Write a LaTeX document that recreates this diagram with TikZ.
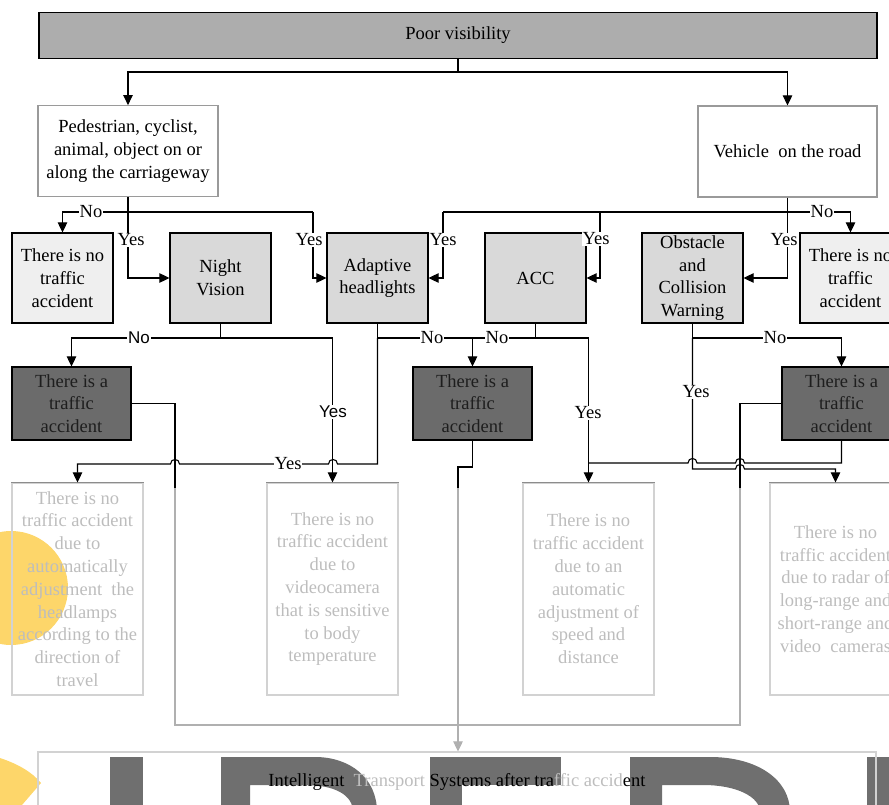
\documentclass[tikz,border=0pt]{standalone}
\usepackage{fontspec}
\setmainfont{Liberation Serif}
\newfontfamily\lsans{Liberation Sans}
\usetikzlibrary{arrows.meta}
\definecolor{topfill}{HTML}{ADADAD}
\definecolor{procfill}{HTML}{D9D9D9}
\definecolor{nofill}{HTML}{EFEFEF}
\definecolor{accfill}{HTML}{6B6B6B}
\definecolor{fadetext}{HTML}{BDBDBD}
\definecolor{fadeline}{HTML}{D2D2D2}
\definecolor{fadetopc}{HTML}{8C8C8C}
\definecolor{glinec}{HTML}{B0B0B0}
\definecolor{wmy}{HTML}{FDD66A}
\definecolor{wmg}{HTML}{6F6F6F}
\definecolor{pedline}{HTML}{9A9A9A}
\definecolor{acctext}{HTML}{1E1E1E}
\newcommand\fs{\fontsize{18.5}{22.8}\selectfont}
\begin{document}
\begin{tikzpicture}[x=1pt,y=-1pt,
  every node/.style={inner sep=0pt, align=center, font=\fs},
  topbox/.style={draw, line width=1.2pt, fill=topfill, minimum width=838pt, minimum height=46pt},
  catbox/.style={draw=pedline, line width=1.2pt, fill=white, minimum width=180pt, minimum height=91pt},
  nobox/.style={draw, line width=1.2pt, fill=nofill, minimum width=101pt, minimum height=90pt},
  procbox/.style={draw, line width=1.2pt, fill=procfill, minimum width=101pt, minimum height=90pt},
  accbox/.style={draw, line width=1.2pt, fill=accfill, text=acctext, minimum width=119pt, minimum height=73pt},
  fadebox/.style={draw=fadeline, line width=1.2pt, text=fadetext, minimum width=131pt, minimum height=212pt},
  botbox/.style={draw=fadeline, line width=1.2pt, minimum width=838pt, minimum height=60pt},
  conn/.style={line width=1.1pt},
  gconn/.style={line width=1.1pt, draw=glinec},
  arr/.style={line width=1.1pt, -{Triangle[length=10pt,width=9.5pt]}},
  garr/.style={line width=1.1pt, draw=glinec, -{Triangle[length=10pt,width=9.5pt]}, glinec},
  lbl/.style={fill=white, inner sep=1pt},
  slbl/.style={fill=white, inner sep=1pt, font=\lsans\fontsize{17}{20}\selectfont},
]
\useasboundingbox (0,0) rectangle (889,805);
% watermark (background)
\fill[wmy] (11,588) circle[radius=57pt];
\fill[wmy] (0,758) .. controls (18,764) and (32,772) .. (41,783) -- (22,805) -- (0,805) -- cycle;
\fill[wmg] (110,757) rectangle (143,812);
\fill[wmg, even odd rule] (221,757) -- (315,757) .. controls (350,757) and (377,778) .. (377,812) -- (221,812) -- cycle
  (250,785) -- (305,785) .. controls (335,785) and (353,795) .. (353,812) -- (250,812) -- cycle;
\fill[wmg] (430,757) rectangle (561,785);
\fill[wmg] (430,785) rectangle (462,812);
\fill[wmg, even odd rule] (630,757) -- (710,757) .. controls (758,757) and (790,780) .. (790,812) -- (630,812) -- cycle
  (662,785) -- (703,785) .. controls (737,785) and (760,797) .. (760,812) -- (662,812) -- cycle;
\fill[wmg] (867,757) rectangle (905,812);

% boxes
\node[topbox] (top) at (458,35.2) {Poor visibility};
\node[catbox] (ped) at (128,151.2) {Pedestrian, cyclist,\\animal, object on or\\along the carriageway};
\node[catbox, minimum width=179pt] (veh) at (787.5,151.5) {Vehicle\ \ on the road};
\node[nobox] (noa) at (62.5,278) {There is no\\traffic\\accident};
\node[procbox] (nv) at (220.5,278) {Night\\Vision};
\node[procbox] (ah) at (377.5,278) {Adaptive\\headlights};
\node[procbox] (acc) at (535.5,278) {ACC};
\node[procbox] (ocw) at (692.5,278) {Obstacle\\and\\Collision\\Warning};
\node[nobox] (nob) at (850.5,278) {There is no\\traffic\\accident};
\node[accbox] (ta) at (71.5,403.5) {There is a\\traffic\\accident};
\node[accbox] (tb) at (472.5,403.5) {There is a\\traffic\\accident};
\node[accbox] (tc) at (841.5,403.5) {There is a\\traffic\\accident};
\node[fadebox] (fa) at (77.5,589) {There is no\\traffic accident\\due to\\automatically\\adjustment\ \ the\\headlamps\\according to the\\direction of\\travel};
\node[fadebox] (fb) at (332.5,589) {There is no\\traffic accident\\due to\\videocamera\\that is sensitive\\to body\\temperature};
\node[fadebox] (fc) at (588.5,589) {There is no\\traffic accident\\due to an\\automatic\\adjustment of\\speed and\\distance};
\node[fadebox] (fd) at (835.5,589) {There is no\\traffic accident\\due to radar of\\long-range and\\short-range and\\video\ \ cameras};
\node[botbox] (bot) at (457,782) {{\color{black}Intelligent}\ \ {\color{fadetext}Transport} {\color{black}Systems after tra}{\color{fadetext}ffic accid}{\color{black}ent}};
\foreach \b in {fa,fb,fc,fd} \draw[fadetopc, line width=1.2pt] (\b.north west) -- (\b.north east);

% coordinates
\coordinate (j0) at (458,72);
\coordinate (j1) at (128,212);
\coordinate (j2) at (313,212);
\coordinate (j3) at (787.5,212);
\coordinate (j4) at (443,212);
\coordinate (j5) at (600,212);
\coordinate (j6) at (220.5,338);
\coordinate (j7) at (377.5,338);
\coordinate (j8) at (472.5,338);
\coordinate (j9) at (535.5,338);
\coordinate (j10) at (692.5,338);
\coordinate (c1) at (175,488);
\coordinate (c2) at (740,725);
\coordinate (c3) at (740,488);
\coordinate (c4) at (458,467);
\coordinate (c5) at (458,488);
\coordinate (h1) at (377.5,464);
\coordinate (h2) at (77.5,464);
\coordinate (k1) at (841.5,463);
\coordinate (k2) at (588.5,463);
\coordinate (m1) at (692.5,469);
\coordinate (m2) at (835.5,469);

% connectors
\draw[arr] (top.south) -- (j0) -| (ped.north);
\draw[arr] (j0) -| (veh.north);
\draw[arr] (ped.south) -- (j1) -| (noa.north);
\draw[arr] (j1) |- (nv.west);
\draw[conn] (j1) -- (j2);
\draw[arr] (j2) |- (ah.west);
\draw[arr] (veh.south) -- (j3) -| (nob.north);
\draw[conn] (j3) -- (j4);
\draw[arr] (j3) |- (ocw.east);
\draw[arr] (j4) |- (ah.east);
\draw[arr] (j5) |- (acc.east);
\draw[arr] (nv.south) -- (j6) -| (ta.north);
\draw[arr] (j6) -| (fb.north);
\draw[conn] (ah.south) -- (j7) -- (j8);
\draw[arr] (j8) -- (tb.north);
\draw[conn] (acc.south) -- (j9) -- (j8);
\draw[arr] (j9) -| (fc.north);
\draw[arr] (j7) -- (h1) -- (337.5,464) .. controls (337.5,458) and (328.5,458) .. (328.5,464)
  -- (179.5,464) .. controls (179.5,458) and (170.5,458) .. (170.5,464) -- (h2) -- (fa.north);
\draw[arr] (ocw.south) -- (j10) -| (tc.north);
\draw[conn] (tc.south) -- (k1) -- (744.5,463) .. controls (744.5,457) and (735.5,457) .. (735.5,463)
  -- (697,463) .. controls (697,457) and (688,457) .. (688,463) -- (k2);
\draw[arr] (j10) -- (m1) -- (735.5,469) .. controls (735.5,463) and (744.5,463) .. (744.5,469) -- (m2) -- (fd.north);
\draw[conn] (ta.east) -| (c1);
\draw[gconn] (c1) |- (c2) -- (c3);
\draw[conn] (c3) |- (tc.west);
\draw[conn] (tb.south) |- (c4) -- (c5);
\draw[garr] (c5) -- (c5 |- bot.north);

% labels
\node[lbl] (l1) at (91,212) {No};
\node[lbl] (l2) at (131,240) {Yes};
\node[lbl] (l3) at (309,240) {Yes};
\node[lbl] (l4) at (443,240) {Yes};
\node[lbl] (l5) at (596,239) {Yes};
\node[lbl] (l6) at (784,240) {Yes};
\node[lbl] (l7) at (822,212) {No};
\node[slbl] (l8) at (139,338) {No};
\node[lbl] (l9) at (432,338) {No};
\node[lbl] (l10) at (497,338) {No};
\node[lbl] (l11) at (775,338) {No};
\node[slbl] (l12) at (333,412) {Yes};
\node[lbl] (l13) at (288,464) {Yes};
\node[lbl] (l14) at (588,413) {Yes};
\node[lbl] (l15) at (696,392) {Yes};
\end{tikzpicture}
\end{document}
